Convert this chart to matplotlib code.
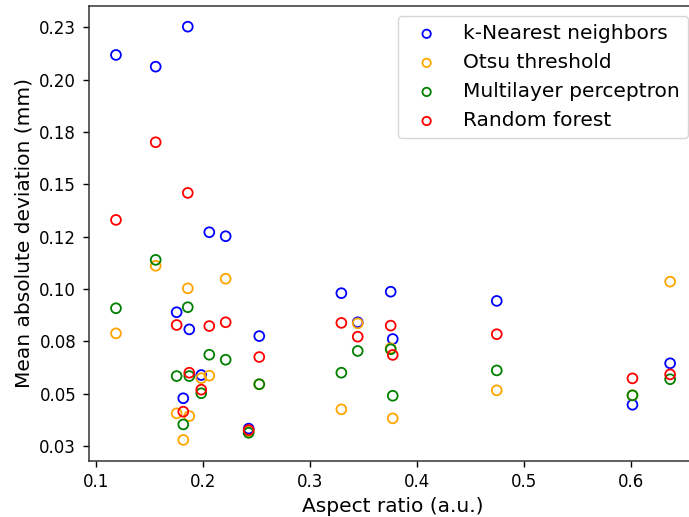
import numpy as np
import matplotlib
matplotlib.use('Agg')
import matplotlib.pyplot as plt
from matplotlib.ticker import FormatStrFormatter

# aspect ratio of each sample
aspect = [0.1184, 0.1555, 0.1751, 0.1813, 0.1855, 0.1869, 0.1981, 0.2056, 0.2209,
          0.2424, 0.2523, 0.3290, 0.3443, 0.3751, 0.3770, 0.4742, 0.6010, 0.6362]

# mean absolute deviation (mm) per method
knn = [0.2118, 0.2062, 0.0889, 0.0478, 0.2253, 0.0807, 0.0589, 0.1271, 0.1252,
       0.0333, 0.0775, 0.0980, 0.0841, 0.0987, 0.0761, 0.0943, 0.0447, 0.0645]
otsu = [0.0788, 0.1111, 0.0406, 0.0279, 0.1003, 0.0393, 0.0574, 0.0586, 0.1049,
        0.0320, 0.0545, 0.0425, 0.0836, 0.0717, 0.0382, 0.0516, 0.0492, 0.1035]
mlp = [0.0908, 0.1139, 0.0584, 0.0353, 0.0913, 0.0584, 0.0502, 0.0686, 0.0662,
       0.0313, 0.0545, 0.0600, 0.0704, 0.0712, 0.0490, 0.0611, 0.0492, 0.0569]
rf = [0.1330, 0.1701, 0.0828, 0.0414, 0.1459, 0.0600, 0.0519, 0.0823, 0.0841,
      0.0326, 0.0675, 0.0838, 0.0772, 0.0825, 0.0685, 0.0784, 0.0573, 0.0592]

fig = plt.figure(figsize=(6.89, 5.17), dpi=100)
ax = fig.add_axes([0.1287, 0.109, 0.884, 0.8795])

ax.scatter(aspect, knn, s=50, facecolors='none', edgecolors='blue', linewidths=1.3, label='k-Nearest neighbors')
ax.scatter(aspect, otsu, s=50, facecolors='none', edgecolors='orange', linewidths=1.3, label='Otsu threshold')
ax.scatter(aspect, mlp, s=50, facecolors='none', edgecolors='green', linewidths=1.3, label='Multilayer perceptron')
ax.scatter(aspect, rf, s=50, facecolors='none', edgecolors='red', linewidths=1.3, label='Random forest')

ax.set_xlim(0.0929, 0.662)
ax.set_ylim(0.0180, 0.2352)
ax.yaxis.set_major_formatter(FormatStrFormatter('%.2f'))
ax.tick_params(labelsize=12, length=4.5, pad=4.5, width=1.0)
for sp in ax.spines.values():
    sp.set_linewidth(1.1)
    sp.set_color('#333333')
ax.set_xlabel('Aspect ratio (a.u.)', fontsize=14.5)
ax.set_ylabel('Mean absolute deviation (mm)', fontsize=14.5)
ax.legend(loc='upper right', fontsize=14.5, markerscale=0.85)

fig.savefig('out.png', dpi=100)
